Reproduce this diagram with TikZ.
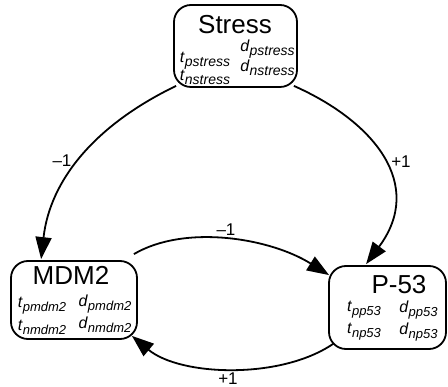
\documentclass[tikz,border=0pt]{standalone}
\usepackage{fontspec}
\setmainfont{Liberation Sans}
\usetikzlibrary{arrows.meta}
\newcommand{\varsub}[3]{{\fontsize{16}{16}\selectfont\textit{#1}\raisebox{-4pt}{\fontsize{#3}{#3}\selectfont\textit{#2}}}}
\begin{document}
\begin{tikzpicture}[x=1pt,y=-1pt,
  box/.style={draw,line width=1.8pt,rounded corners=17pt,inner sep=0pt},
  title/.style={font=\fontsize{26}{26}\selectfont,inner sep=0pt},
  var/.style={inner sep=0pt},
  elabel/.style={font=\fontsize{17}{17}\selectfont,inner sep=0pt},
  conn/.style={line width=1.8pt,-{Triangle[length=22pt,width=16pt]}}]
\useasboundingbox (0,0) rectangle (448,387);
% boxes
\node[box,minimum width=123pt,minimum height=82pt] (stress) at (235.5,46) {};
\node[box,minimum width=126pt,minimum height=78pt] (mdm2) at (74,300) {};
\node[box,minimum width=117pt,minimum height=83pt] (p53) at (387.5,307.5) {};
% titles
\node[title] (stressT) at (235,25) {Stress};
\node[title] (mdm2T) at (71,275) {MDM2};
\node[title] (p53T) at (399,285) {P-53};
% variables
\node[var] (tps) at (205,61) {\varsub{t}{pstress}{14}};
\node[var] (tns) at (205,77) {\varsub{t}{nstress}{14}};
\node[var] (dps) at (267.5,49) {\varsub{d}{pstress}{14}};
\node[var] (dns) at (267.5,68) {\varsub{d}{nstress}{14}};
\node[var] (tpm) at (42,306) {\varsub{t}{pmdm2}{13}};
\node[var] (tnm) at (42,327) {\varsub{t}{nmdm2}{13}};
\node[var] (dpm) at (105,304) {\varsub{d}{pmdm2}{13}};
\node[var] (dnm) at (105,325) {\varsub{d}{nmdm2}{13}};
\node[var] (tpp) at (364,310) {\varsub{t}{pp53}{13}};
\node[var] (tnp) at (364,332) {\varsub{t}{np53}{13}};
\node[var] (dpp) at (418.5,310) {\varsub{d}{pp53}{13}};
\node[var] (dnp) at (418.5,332) {\varsub{d}{np53}{13}};
% connector end points
\coordinate (s1) at ([shift={(3,-2)}]stress.south west);
\coordinate (s2) at ([shift={(-4,-2)}]stress.south east);
\coordinate (m1) at ([shift={(31,-1)}]mdm2.north west);
\coordinate (m2) at ([shift={(-4,-6)}]mdm2.north east);
\coordinate (m3) at ([shift={(-6,-4)}]mdm2.south east);
\coordinate (p1) at ([shift={(38,-1)}]p53.north west);
\coordinate (p2) at ([shift={(1,10)}]p53.north west);
\coordinate (p3) at ([shift={(5,-6)}]p53.south west);
% connectors
\draw[conn] (s1) .. controls (95,125) and (50,180) .. (m1);
\draw[conn] (s2) .. controls (375,122) and (425,185) .. (p1);
\draw[conn] (m2) .. controls (185,224) and (270,238) .. (p2);
\draw[conn] (p3) .. controls (280,380) and (180,376) .. (m3);
% labels
\node[elabel] (l1) at (62,161) {--1};
\node[elabel] (l2) at (401,162) {+1};
\node[elabel] (l3) at (226,230) {--1};
\node[elabel] (l4) at (228,379) {+1};
\end{tikzpicture}
\end{document}
